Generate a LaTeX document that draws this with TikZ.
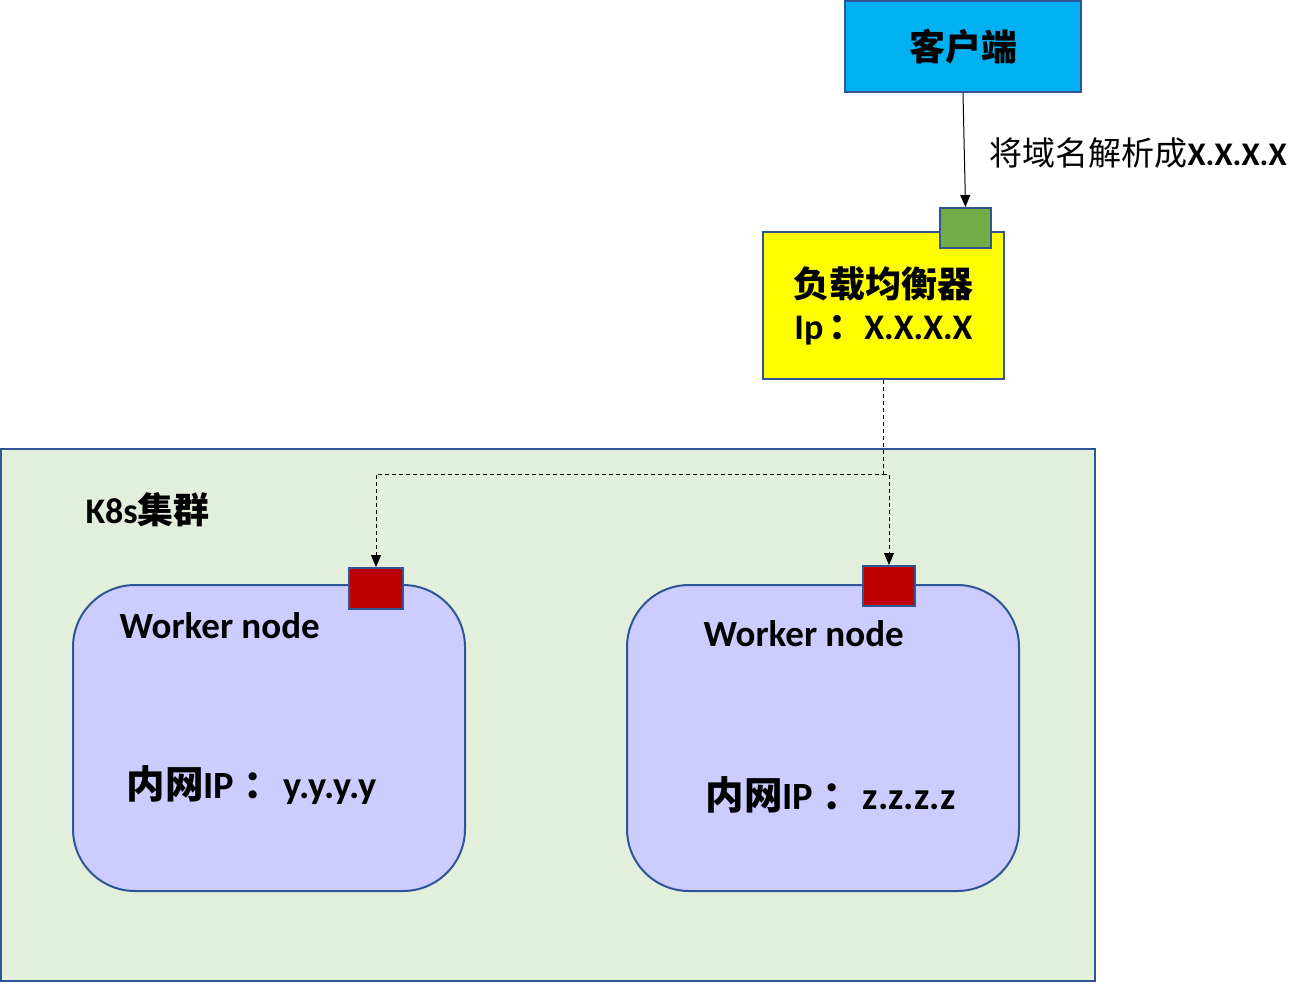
\documentclass[tikz,border=0pt]{standalone}
\usepackage{fontspec}
\setmainfont{Carlito}
\newfontfamily\cjk{Noto Sans CJK SC}
\usetikzlibrary{arrows.meta}
\definecolor{clientblue}{HTML}{00B0F0}
\definecolor{edgeblue}{HTML}{2F5597}
\definecolor{lbyellow}{HTML}{FFFF00}
\definecolor{portgreen}{HTML}{70AD47}
\definecolor{portred}{HTML}{C00000}
\definecolor{clustergreen}{HTML}{E2EFDA}
\definecolor{workerlilac}{HTML}{CCCCFF}
\tikzset{
  box/.style={draw=edgeblue, line width=2pt, inner sep=0pt},
  port/.style={box, minimum width=52pt, minimum height=40pt},
  bigtext/.style={font=\fontsize{36pt}{44pt}\selectfont\bfseries, text=black},
  iptext/.style={font=\fontsize{38.5pt}{44pt}\selectfont\bfseries, text=black},
  conn/.style={draw=black, line width=1pt, -{Triangle[width=10pt,length=12pt]}},
  dconn/.style={conn, dash pattern=on 4pt off 3pt},
}
\begin{document}
\begin{tikzpicture}[x=1pt,y=-1pt]
\useasboundingbox (0,0) rectangle (1309,983);
% cluster
\node[box, fill=clustergreen, minimum width=1094pt, minimum height=532pt] (cluster) at (548,715) {};
\node[bigtext, anchor=west] (k8slabel) at (82,510) {K8s{\cjk 集群}};
% workers
\node[box, fill=workerlilac, rounded corners=62pt, minimum width=392pt, minimum height=306pt] (w1) at (269,738) {};
\node[box, fill=workerlilac, rounded corners=62pt, minimum width=392pt, minimum height=306pt] (w2) at (823,738) {};
\node[anchor=west, font=\fontsize{37pt}{44pt}\selectfont\bfseries] (w1name) at (116,626) {Worker node};
\node[anchor=west, font=\fontsize{37pt}{44pt}\selectfont\bfseries] (w2name) at (700,634) {Worker node};
\node[iptext, anchor=west] (w1ip) at (123,785) {{\cjk 内网}IP\hspace{9pt}{\cjk ：}\hspace{2pt}y.y.y.y};
\node[iptext, anchor=west] (w2ip) at (702,795) {{\cjk 内网}IP\hspace{9pt}{\cjk ：}\hspace{2pt}z.z.z.z};
\node[port, fill=portred, minimum width=54pt, minimum height=41pt] (p1) at (376,588.5) {};
\node[port, fill=portred] (p2) at (889,586) {};
% client
\node[box, fill=clientblue, minimum width=236pt, minimum height=91pt, bigtext] (client) at (963,46.5) {\cjk\bfseries 客户端};
% load balancer
\node[box, fill=lbyellow, minimum width=241pt, minimum height=147pt, bigtext, align=center] (lb) at (883.5,305.5) {{\cjk\bfseries 负载均衡器}\\[-2pt]Ip\hspace{5pt}{\cjk\bfseries ：}X.X.X.X};
\node[port, fill=portgreen, minimum width=51pt] (lbport) at (965.5,228) {};
% connectors
\draw[conn] (client.south) -- (lbport.north);
\node[anchor=west, font=\fontsize{33pt}{38pt}\selectfont] (dnslabel) at (986,153) {{\cjk 将域名解析成}\textbf{X.X.X.X}};
\coordinate (split) at (883,474);
\draw[dconn] (lb.south -| split) -- (split) -| (p1.north);
\draw[dconn] (split) -| (p2.north);
\end{tikzpicture}
\end{document}
